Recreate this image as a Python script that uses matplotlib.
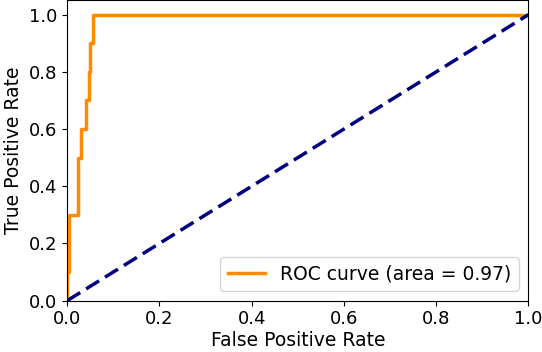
import matplotlib
matplotlib.use("Agg")
import matplotlib.pyplot as plt

fpr = [0.0, 0.0, 0.004, 0.004, 0.023, 0.023, 0.030, 0.030, 0.040, 0.040, 0.047, 0.047, 0.050, 0.050, 0.056, 0.056, 1.0]
tpr = [0.0, 0.1, 0.1, 0.3, 0.3, 0.5, 0.5, 0.6, 0.6, 0.7, 0.7, 0.8, 0.8, 0.9, 0.9, 1.0, 1.0]
roc_auc = 0.97
diag = [0, 1]

fig = plt.figure(figsize=(5.42, 3.52), dpi=100)
ax = fig.add_axes([0.124, 0.146, 0.851, 0.853])
ax.plot(fpr, tpr, color='darkorange', lw=2.5, label='ROC curve (area = %0.2f)' % roc_auc)
ax.plot(diag, diag, color='navy', lw=2.5, linestyle='--', dashes=(4.4, 2.0))
ax.set_xlim(0.0, 1.0)
ax.set_ylim(0.0, 1.05)
ax.set_xlabel('False Positive Rate', fontsize=13.5, labelpad=2)
ax.set_ylabel('True Positive Rate', fontsize=13.5, labelpad=4)
ax.tick_params(labelsize=13)
ax.legend(loc='lower right', fontsize=13.5)
fig.savefig('out.png', dpi=100)
